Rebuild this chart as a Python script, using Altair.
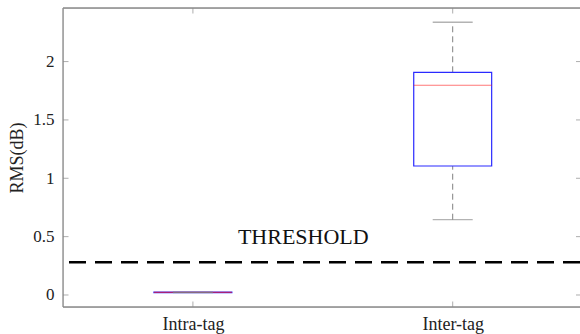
import altair as alt
import pandas as pd

categories = ["Intra-tag", "Inter-tag"]
positions = [1, 2]
lower_whisker = [0.021, 0.645]
q1 = [0.021, 1.105]
median = [0.023, 1.797]
q3 = [0.025, 1.908]
upper_whisker = [0.025, 2.337]
threshold_value = [0.28]
threshold_label = ["THRESHOLD"]
label_pos_x = [1.425]
label_pos_y = [0.50]
y_ticks = [0, 0.5, 1, 1.5, 2]

X_DOMAIN = [0.5, 2.49]
Y_DOMAIN = [-0.103, 2.459]
BOX_HALF = 0.15
CAP_HALF = 0.077
FONT = "Liberation Serif"
FRAME = "#8a8a8a"

boxes = pd.DataFrame({
    "category": categories, "pos": positions, "lo": lower_whisker,
    "q1": q1, "med": median, "q3": q3, "hi": upper_whisker,
})

xs = alt.Scale(domain=X_DOMAIN, nice=False, zero=False)
ys = alt.Scale(domain=Y_DOMAIN, nice=False, zero=False)

label_expr = " : ".join(
    f"datum.value == {p} ? '{c}'" for p, c in zip(positions, categories)
) + " : ''"

base = alt.Chart(boxes).transform_calculate(
    bl="datum.pos - %f" % BOX_HALF, br="datum.pos + %f" % BOX_HALF,
    cl="datum.pos - %f" % CAP_HALF, cr="datum.pos + %f" % CAP_HALF,
)

X = alt.X("pos:Q", scale=xs, axis=alt.Axis(
    values=positions, labelExpr=label_expr, title=None, grid=False,
    domain=False, ticks=False, labelFont=FONT, labelFontSize=18,
    labelColor="#222222", labelPadding=8))
Y_axis = alt.Axis(values=y_ticks, format="~g", title="RMS(dB)", grid=False,
                  domain=False, ticks=False, labelFont=FONT, labelFontSize=17,
                  labelColor="#222222", labelPadding=9, titleFont=FONT,
                  titleFontSize=18, titleFontWeight="normal",
                  titleColor="#222222", titlePadding=6)

whisk_low = base.mark_rule(color="#808080", strokeDash=[6, 4], strokeWidth=1).encode(
    x=X, y=alt.Y("lo:Q", scale=ys, axis=Y_axis), y2="q1:Q")
whisk_high = base.mark_rule(color="#808080", strokeDash=[6, 4], strokeWidth=1).encode(
    x="pos:Q", y=alt.Y("q3:Q", scale=ys), y2="hi:Q")
box = base.mark_rect(fill="white", fillOpacity=0, stroke="#2a2aff", strokeWidth=1.2).encode(
    x=alt.X("bl:Q", scale=xs), x2="br:Q", y=alt.Y("q1:Q", scale=ys), y2="q3:Q")
med = base.mark_rule(color="#ff1a1a", strokeWidth=1.2, opacity=0.6).encode(
    x=alt.X("bl:Q", scale=xs), x2="br:Q", y=alt.Y("med:Q", scale=ys))
cap_lo = base.mark_rule(color="#808080", strokeWidth=1.3, opacity=0.6).encode(
    x=alt.X("cl:Q", scale=xs), x2="cr:Q", y=alt.Y("lo:Q", scale=ys))
cap_hi = base.mark_rule(color="#808080", strokeWidth=1.3, opacity=0.6).encode(
    x=alt.X("cl:Q", scale=xs), x2="cr:Q", y=alt.Y("hi:Q", scale=ys))

thr = alt.Chart(pd.DataFrame({"t": threshold_value})).mark_rule(
    color="black", strokeWidth=2.6, strokeDash=[17, 9]).encode(
    y=alt.Y("t:Q", scale=ys))
thr_text = alt.Chart(pd.DataFrame({"x": label_pos_x, "y": label_pos_y, "s": threshold_label})).mark_text(
    font=FONT, fontSize=22, color="#111111", baseline="middle", align="center").encode(
    x=alt.X("x:Q", scale=xs), y=alt.Y("y:Q", scale=ys), text="s:N")

# frame (left, top, bottom) drawn from the scale domain; right edge lies at the window border
fr = pd.DataFrame({"x0": [X_DOMAIN[0]], "x1": [X_DOMAIN[1]], "y0": [Y_DOMAIN[0]], "y1": [Y_DOMAIN[1]]})
frame_l = alt.Chart(fr).mark_rule(color=FRAME, strokeWidth=1.3).encode(
    x=alt.X("x0:Q", scale=xs), y=alt.Y("y0:Q", scale=ys), y2="y1:Q")
frame_b = alt.Chart(fr).mark_rule(color=FRAME, strokeWidth=1.3).encode(
    x=alt.X("x0:Q", scale=xs), x2="x1:Q", y=alt.Y("y0:Q", scale=ys))
frame_t = alt.Chart(fr).mark_rule(color=FRAME, strokeWidth=1.3).encode(
    x=alt.X("x0:Q", scale=xs), x2="x1:Q", y=alt.Y("y1:Q", scale=ys))

# inward ticks on all four sides (clipped halves)
yt = pd.DataFrame({"v": y_ticks, "l": [X_DOMAIN[0]] * len(y_ticks), "r": [X_DOMAIN[1]] * len(y_ticks)})
xt = pd.DataFrame({"p": positions, "b": [Y_DOMAIN[0]] * len(positions), "t": [Y_DOMAIN[1]] * len(positions)})
tick_l = alt.Chart(yt).mark_tick(orient="horizontal", size=11, thickness=1, color=FRAME, clip=True).encode(
    x=alt.X("l:Q", scale=xs), y=alt.Y("v:Q", scale=ys))
tick_r = alt.Chart(yt).mark_tick(orient="horizontal", size=8, thickness=1, color=FRAME, clip=True).encode(
    x=alt.X("r:Q", scale=xs), y=alt.Y("v:Q", scale=ys))
tick_b = alt.Chart(xt).mark_tick(orient="vertical", size=11, thickness=1, color=FRAME, clip=True).encode(
    x=alt.X("p:Q", scale=xs), y=alt.Y("b:Q", scale=ys))
tick_t = alt.Chart(xt).mark_tick(orient="vertical", size=11, thickness=1, color=FRAME, clip=True).encode(
    x=alt.X("p:Q", scale=xs), y=alt.Y("t:Q", scale=ys))

chart = alt.layer(
    whisk_low, whisk_high, box, med, cap_lo, cap_hi, thr, thr_text,
    frame_l, frame_b, frame_t, tick_l, tick_r, tick_b, tick_t,
).properties(
    width=517, height=299,
    autosize=alt.AutoSizeParams(type="none"),
    padding={"left": 63, "top": 8, "right": 0, "bottom": 27},
).configure_view(strokeWidth=0).configure(background="white")

chart.save("out.html", embed_options={"renderer": "svg", "actions": False})
